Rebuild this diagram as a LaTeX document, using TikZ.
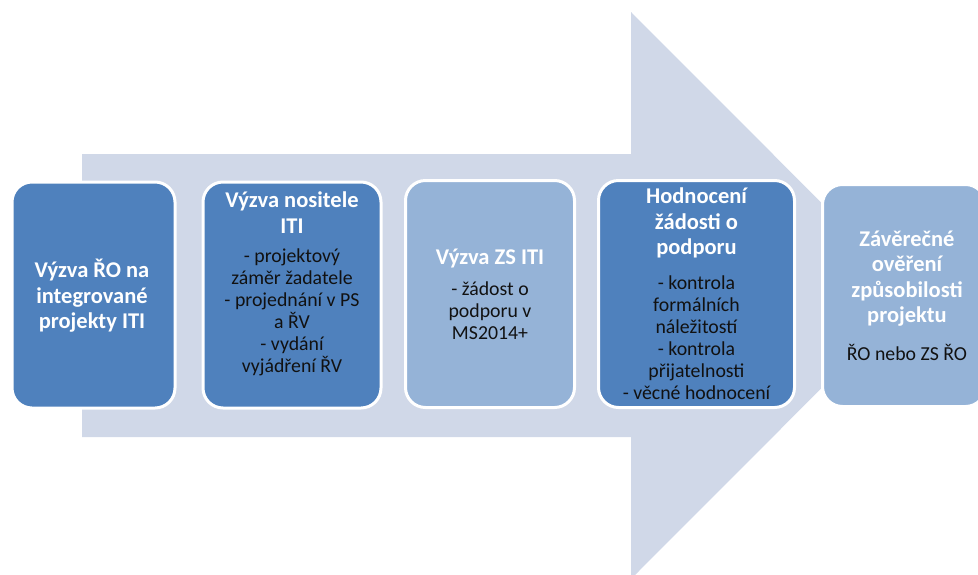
\documentclass[tikz,border=0pt]{standalone}
\usepackage{fontspec}
\setmainfont{Carlito}
\definecolor{arrowc}{HTML}{D0D8E8}
\definecolor{darkb}{HTML}{4F81BD}
\definecolor{lightb}{HTML}{95B3D7}
\definecolor{bodyc}{HTML}{111111}
\tikzset{
  box/.style={draw=white, line width=3pt, rounded corners=20pt, inner sep=0pt},
  ttl/.style={text=white, font=\fontsize{22.5}{25.5}\selectfont\bfseries, align=center, inner sep=0pt},
  bdy/.style={text=bodyc, font=\fontsize{19.8}{22}\selectfont, align=center, inner sep=0pt}
}
\begin{document}
\begin{tikzpicture}[x=1pt,y=-1pt]
\useasboundingbox (0,0) rectangle (978,574);
\clip (0,0) rectangle (978,574);
\fill[arrowc] (82,154) -- (631,154) -- (631,12) -- (914,295.5) -- (631,579) -- (631,437) -- (82,437) -- cycle;
% boxes
\node[box, fill=darkb, minimum width=163pt, minimum height=226pt] (b1) at (93.5,295) {};
\node[box, fill=darkb, minimum width=178pt, minimum height=226pt] (b2) at (292,295) {};
\node[box, fill=lightb, minimum width=169pt, minimum height=227pt] (b3) at (490,294) {};
\node[box, fill=darkb, minimum width=196pt, minimum height=227pt] (b4) at (696.5,294) {};
\node[box, fill=lightb, minimum width=163pt, minimum height=222pt] (b5) at (904,295.5) {};
% texts
\node[ttl] (t1) at (92,296) {Výzva ŘO na\\integrované\\projekty ITI};
\node[ttl] (t2) at (292,212.5) {Výzva nositele\\ITI};
\node[bdy] (d2) at (292,312.5) {- projektový\\záměr žadatele\\- projednání v PS\\a ŘV\\- vydání\\vyjádření ŘV};
\node[ttl] (t3) at (490,258) {Výzva ZS ITI};
\node[bdy] (d3) at (490,310.5) {- žádost o\\podporu v\\MS2014+};
\node[ttl] (t4) at (696.5,223) {Hodnocení\\žádosti o\\podporu};
\node[bdy] (d4) at (696.5,337.5) {- kontrola\\formálních\\náležitostí\\- kontrola\\přijatelnosti\\- věcné hodnocení};
\node[ttl] (t5) at (907,278.5) {Závěrečné\\ověření\\způsobilosti\\projektu};
\node[bdy] (d5) at (907,352) {ŘO nebo ZS ŘO};
\end{tikzpicture}
\end{document}
